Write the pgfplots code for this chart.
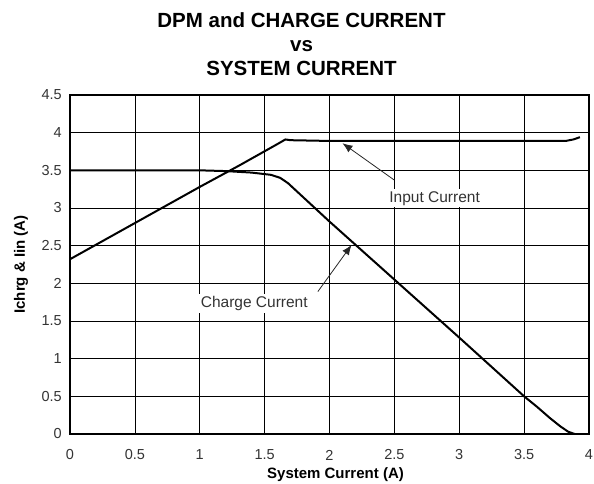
\documentclass[border=0pt]{standalone}
\usepackage{fontspec}
\setmainfont{Liberation Sans}
\usepackage{pgfplots}
\pgfplotsset{compat=1.18}
\usetikzlibrary{arrows.meta}
\begin{document}
\begin{tikzpicture}
\begin{axis}[name=ax,
  scale only axis, width=519pt, height=339pt,
  xmin=0, xmax=4, ymin=0, ymax=4.5,
  xtick={0,0.5,...,4}, ytick={0,0.5,...,4.5},
  grid=major, major grid style={black, line width=0.6pt},
  axis line style={line width=1.8pt},
  tick style={draw=none},
  /pgf/number format/assume math mode=true,
  tick label style={font=\fontsize{14.5}{16}\selectfont, text=black!80, inner sep=0pt},
  xticklabel style={anchor=center, yshift=-21pt},
  yticklabel style={anchor=east, xshift=-8pt},
  xlabel={\textbf{System Current (A)}}, ylabel={\textbf{Ichrg \& Iin (A)}},
  label style={font=\fontsize{15}{17}\selectfont},
  xlabel style={at={(axis description cs:0.5,0)}, anchor=center, yshift=-41pt, xshift=6pt},
  ylabel style={at={(axis description cs:0,0.5)}, anchor=center, yshift=49pt},
  clip=false]
  % input current
  \addplot[black, line width=2pt, line join=round] coordinates {
    (0,2.32) (0.5,2.80) (1.0,3.28) (1.3,3.56) (1.6,3.85) (1.66,3.91) (1.70,3.90)
    (2.0,3.89) (2.5,3.89) (3.0,3.89) (3.5,3.89) (3.82,3.89) (3.88,3.91) (3.93,3.94)};
  % charge current
  \addplot[black, line width=2pt, line join=round] coordinates {
    (0,3.5) (0.5,3.5) (1.0,3.5) (1.2,3.49) (1.4,3.47) (1.55,3.44) (1.62,3.40)
    (1.68,3.33) (2.0,2.82) (2.5,2.05) (3.0,1.28) (3.5,0.50) (3.6,0.36)
    (3.7,0.21) (3.78,0.10) (3.84,0.03) (3.89,0.0)};
  \draw[-{Latex[length=10pt,width=8pt]}, black!85, line width=0.8pt] (axis cs:2.50,3.37) -- (axis cs:2.10,3.86);
  \draw[-{Latex[length=10pt,width=8pt]}, black!85, line width=0.8pt] (axis cs:1.91,1.89) -- (axis cs:2.17,2.51);
  \node[fill=white, inner sep=2pt, text=black!80, font=\fontsize{15.5}{17}\selectfont] at (axis cs:2.81,3.13) {Input Current};
  \node[fill=white, inner sep=2pt, text=black!80, font=\fontsize{15.5}{17}\selectfont] at (axis cs:1.42,1.73) {Charge Current};
\end{axis}
\node[align=center, font=\bfseries\fontsize{20.5}{24}\selectfont] at ([shift={(-28pt,51pt)}]ax.north) {DPM and CHARGE CURRENT\\vs\\SYSTEM CURRENT};
\pgfresetboundingbox
\path ([shift={(-70pt,-49pt)}]ax.south west) rectangle ([shift={(5pt,95pt)}]ax.north east);
\end{tikzpicture}
\end{document}
